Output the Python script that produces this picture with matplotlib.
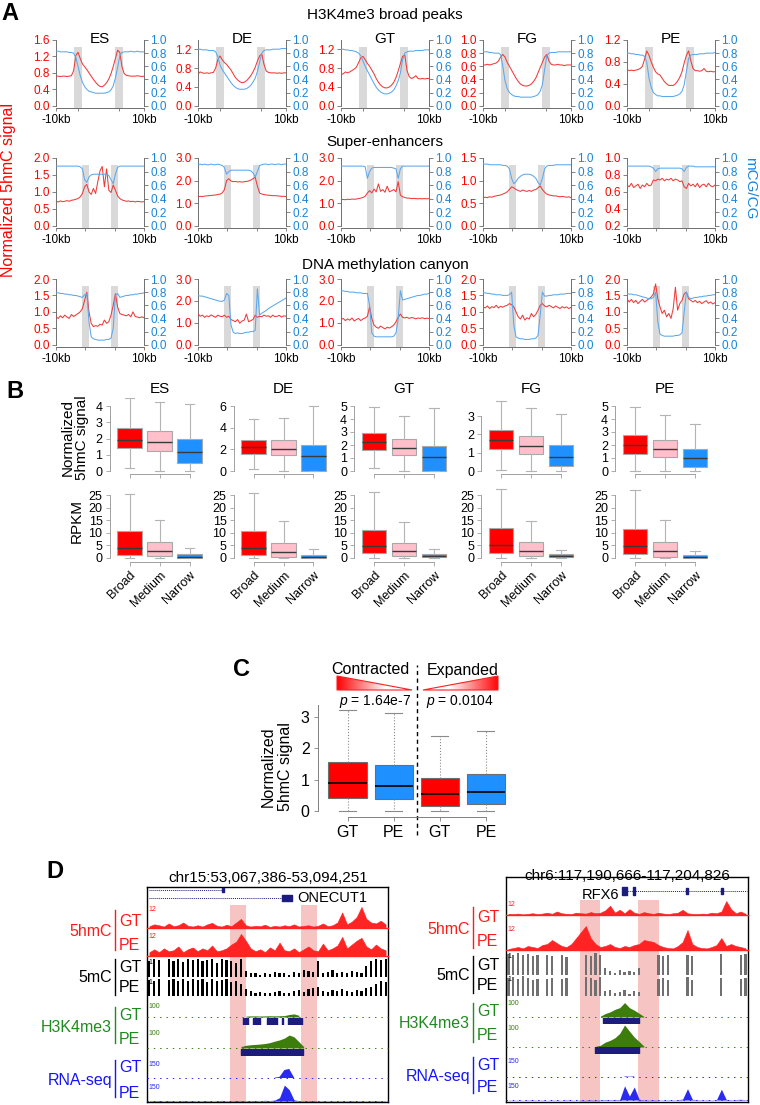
import numpy as np
import matplotlib
matplotlib.use('Agg')
import matplotlib.pyplot as plt
from matplotlib.patches import Polygon
from matplotlib.lines import Line2D
from matplotlib.colors import LinearSegmentedColormap

plt.rcParams['font.family'] = ['Liberation Sans', 'DejaVu Sans']
plt.rcParams['mathtext.fontset'] = 'custom'
plt.rcParams['mathtext.it'] = 'Liberation Sans:italic'
plt.rcParams['mathtext.rm'] = 'Liberation Sans'

# ============ panel A data ============
stages = ['ES', 'DE', 'GT', 'FG', 'PE']
row_titles = ['H3K4me3 broad peaks', 'Super-enhancers', 'DNA methylation canyon']
pos_kb = np.linspace(-10, 10, 41)
bands_kb = [[(-6.0, -4.2), (3.4, 5.2)], [(-4.1, -2.5), (2.4, 4.2)], [(-4.1, -2.5), (2.4, 4.2)]]
left_ytop = [[1.6, 1.4, 1.4, 1.0, 1.2], [2.0, 3.0, 3.0, 1.5, 1.0], [2.0, 3.0, 3.0, 2.0, 2.0]]
left_ticks = [
    [[0, 0.4, 0.8, 1.2, 1.6], [0, 0.4, 0.8, 1.2], [0, 0.4, 0.8, 1.2], [0, 0.2, 0.4, 0.6, 0.8, 1.0], [0, 0.4, 0.8, 1.2]],
    [[0, 0.5, 1.0, 1.5, 2.0], [0, 1, 2, 3], [0, 1, 2, 3], [0, 0.5, 1.0, 1.5], [0.2, 0.4, 0.6, 0.8, 1.0]],
    [[0, 0.5, 1.0, 1.5, 2.0], [0, 1, 2, 3], [0, 1, 2, 3], [0, 0.5, 1.0, 1.5, 2.0], [0, 0.5, 1.0, 1.5, 2.0]],
]
right_ticks = [0, 0.2, 0.4, 0.6, 0.8, 1.0]

k4_red = {
    'ES': [0.72, 0.72, 0.71, 0.72, 0.72, 0.71, 0.72, 0.73,
           0.85, 1.22, 1.30, 1.15, 1.02, 0.95, 0.88, 0.80, 0.72, 0.64, 0.57, 0.51, 0.47, 0.46, 0.50, 0.56,
           0.65, 0.78, 0.95, 1.15, 1.35, 1.30, 0.95, 0.78,
           0.74, 0.73, 0.72, 0.72, 0.72, 0.73, 0.72, 0.71, 0.72],
    'DE': [0.68, 0.72, 0.70, 0.69, 0.70, 0.69, 0.70, 0.71,
           0.80, 0.98, 1.06, 0.98, 0.92, 0.88, 0.82, 0.76, 0.68, 0.60, 0.55, 0.51, 0.49, 0.50, 0.53, 0.58,
           0.64, 0.72, 0.82, 0.95, 1.06, 1.10, 0.88, 0.74,
           0.71, 0.70, 0.70, 0.70, 0.69, 0.70, 0.69, 0.70, 0.70],
    'GT': [0.66, 0.68, 0.72, 0.70, 0.72, 0.75, 0.78, 0.82,
           0.92, 1.02, 1.05, 0.98, 0.90, 0.84, 0.76, 0.68, 0.58, 0.50, 0.44, 0.40, 0.38, 0.38, 0.40, 0.44,
           0.50, 0.60, 0.74, 0.90, 1.05, 1.08, 0.75, 0.62,
           0.58, 0.60, 0.64, 0.58, 0.57, 0.58, 0.57, 0.58, 0.58],
    'FG': [0.62, 0.62, 0.63, 0.62, 0.63, 0.64, 0.65, 0.68,
           0.74, 0.78, 0.74, 0.66, 0.60, 0.54, 0.48, 0.42, 0.37, 0.33, 0.31, 0.30, 0.30, 0.31, 0.33, 0.37,
           0.42, 0.50, 0.58, 0.66, 0.74, 0.78, 0.68, 0.63,
           0.62, 0.62, 0.63, 0.62, 0.62, 0.61, 0.62, 0.62, 0.62],
    'PE': [0.66, 0.64, 0.65, 0.64, 0.65, 0.66, 0.68, 0.72,
           0.85, 1.00, 0.92, 0.80, 0.70, 0.62, 0.58, 0.56, 0.50, 0.44, 0.40, 0.37, 0.37, 0.37, 0.40, 0.45,
           0.52, 0.62, 0.78, 0.92, 1.00, 0.82, 0.68, 0.64,
           0.64, 0.63, 0.64, 0.68, 0.63, 0.62, 0.63, 0.62, 0.62],
}
k4_blue = {
    'ES': [0.83, 0.83, 0.82, 0.82, 0.82, 0.82, 0.81, 0.81,
           0.80, 0.74, 0.60, 0.46, 0.36, 0.29, 0.25, 0.22, 0.21, 0.20, 0.19, 0.19, 0.19, 0.19, 0.19, 0.20,
           0.21, 0.24, 0.30, 0.42, 0.58, 0.76, 0.81, 0.82,
           0.82, 0.82, 0.83, 0.82, 0.82, 0.83, 0.82, 0.82, 0.82],
    'DE': [0.86, 0.86, 0.85, 0.85, 0.85, 0.84, 0.84, 0.84,
           0.82, 0.75, 0.62, 0.55, 0.50, 0.45, 0.40, 0.35, 0.31, 0.28, 0.26, 0.25, 0.25, 0.25, 0.26, 0.28,
           0.31, 0.36, 0.42, 0.52, 0.66, 0.80, 0.84, 0.85,
           0.85, 0.85, 0.86, 0.86, 0.86, 0.86, 0.87, 0.87, 0.87],
    'GT': [0.86, 0.86, 0.85, 0.85, 0.84, 0.84, 0.83, 0.82,
           0.80, 0.76, 0.68, 0.60, 0.53, 0.47, 0.40, 0.34, 0.28, 0.24, 0.21, 0.19, 0.18, 0.18, 0.19, 0.21,
           0.24, 0.30, 0.38, 0.50, 0.70, 0.80, 0.82, 0.83,
           0.83, 0.83, 0.84, 0.84, 0.84, 0.84, 0.85, 0.85, 0.85],
    'FG': [0.82, 0.82, 0.82, 0.81, 0.81, 0.80, 0.80, 0.80,
           0.78, 0.60, 0.38, 0.26, 0.20, 0.17, 0.15, 0.14, 0.14, 0.13, 0.13, 0.13, 0.13, 0.13, 0.13, 0.14,
           0.15, 0.17, 0.22, 0.32, 0.55, 0.76, 0.80, 0.81,
           0.81, 0.81, 0.82, 0.82, 0.82, 0.82, 0.82, 0.82, 0.82],
    'PE': [0.80, 0.80, 0.79, 0.79, 0.78, 0.78, 0.77, 0.77,
           0.75, 0.66, 0.42, 0.28, 0.20, 0.17, 0.15, 0.15, 0.14, 0.14, 0.14, 0.14, 0.14, 0.14, 0.15, 0.16,
           0.18, 0.22, 0.32, 0.52, 0.72, 0.77, 0.78, 0.78,
           0.78, 0.79, 0.79, 0.79, 0.80, 0.80, 0.80, 0.80, 0.81],
}
se_red = {
    'ES': [0.72, 0.70, 0.73, 0.71, 0.72, 0.74, 0.72, 0.75, 0.76, 0.78, 0.80,
           0.85, 0.95, 1.15, 1.22, 1.00, 0.92, 1.10, 0.95, 1.30, 1.62,
           1.75, 1.15, 1.68, 1.05, 0.98, 1.20, 1.05, 0.88, 0.80, 0.76,
           0.74, 0.72, 0.73, 0.71, 0.72, 0.70, 0.72, 0.71, 0.70, 0.71],
    'DE': [1.28, 1.30, 1.29, 1.31, 1.32, 1.33, 1.34, 1.35, 1.36, 1.38, 1.40,
           1.45, 1.60, 2.00, 2.08, 1.98, 1.95, 1.96, 1.94, 1.95, 1.93,
           1.95, 1.96, 1.98, 2.02, 2.08, 2.15, 1.75, 1.45, 1.40, 1.38,
           1.36, 1.35, 1.34, 1.33, 1.33, 1.32, 1.31, 1.30, 1.30, 1.29],
    'GT': [1.15, 1.16, 1.15, 1.17, 1.16, 1.18, 1.17, 1.18, 1.20, 1.22, 1.25,
           1.30, 1.45, 1.55, 1.45, 1.62, 1.50, 1.85, 1.52, 1.60, 1.48,
           1.75, 1.50, 1.55, 1.60, 1.50, 1.95, 1.35, 1.28, 1.25, 1.22,
           1.22, 1.20, 1.21, 1.20, 1.19, 1.20, 1.19, 1.20, 1.19, 1.20],
    'FG': [0.62, 0.63, 0.62, 0.64, 0.63, 0.65, 0.66, 0.67, 0.68, 0.70, 0.72,
           0.75, 0.80, 0.86, 0.84, 0.80, 0.78, 0.76, 0.79, 0.77, 0.76,
           0.78, 0.76, 0.79, 0.80, 0.84, 0.88, 0.80, 0.74, 0.70, 0.68,
           0.67, 0.66, 0.66, 0.65, 0.64, 0.65, 0.64, 0.63, 0.64, 0.62],
    'PE': [0.68, 0.66, 0.70, 0.65, 0.67, 0.69, 0.64, 0.68, 0.66, 0.70, 0.67,
           0.68, 0.74, 0.73, 0.75, 0.74, 0.76, 0.73, 0.75, 0.74, 0.76,
           0.73, 0.75, 0.74, 0.72, 0.73, 0.66, 0.64, 0.70, 0.67, 0.69,
           0.66, 0.70, 0.65, 0.68, 0.69, 0.66, 0.70, 0.67, 0.66, 0.68],
}
se_blue = {
    'ES': [0.88, 0.88, 0.88, 0.88, 0.88, 0.88, 0.88, 0.88, 0.88, 0.88, 0.88,
           0.87, 0.84, 0.68, 0.64, 0.72, 0.75, 0.76, 0.76, 0.76, 0.76,
           0.76, 0.76, 0.76, 0.74, 0.68, 0.62, 0.76, 0.86, 0.88, 0.88,
           0.88, 0.88, 0.88, 0.88, 0.88, 0.88, 0.88, 0.88, 0.88, 0.88],
    'DE': [0.90, 0.91, 0.90, 0.91, 0.90, 0.90, 0.91, 0.90, 0.90, 0.91, 0.90,
           0.89, 0.86, 0.76, 0.80, 0.82, 0.82, 0.82, 0.82, 0.82, 0.82,
           0.82, 0.82, 0.82, 0.81, 0.78, 0.72, 0.80, 0.89, 0.90, 0.91,
           0.91, 0.90, 0.91, 0.91, 0.90, 0.91, 0.91, 0.90, 0.91, 0.91],
    'GT': [0.88, 0.88, 0.88, 0.88, 0.88, 0.88, 0.88, 0.88, 0.88, 0.88, 0.88,
           0.87, 0.70, 0.80, 0.85, 0.86, 0.86, 0.86, 0.86, 0.86, 0.86,
           0.86, 0.86, 0.86, 0.85, 0.84, 0.70, 0.84, 0.88, 0.88, 0.88,
           0.88, 0.88, 0.88, 0.88, 0.88, 0.88, 0.88, 0.88, 0.88, 0.88],
    'FG': [0.91, 0.91, 0.91, 0.90, 0.90, 0.90, 0.90, 0.90, 0.90, 0.89, 0.89,
           0.88, 0.84, 0.70, 0.62, 0.65, 0.70, 0.73, 0.75, 0.76, 0.76,
           0.76, 0.75, 0.73, 0.70, 0.64, 0.60, 0.70, 0.84, 0.88, 0.89,
           0.89, 0.89, 0.90, 0.90, 0.90, 0.90, 0.90, 0.90, 0.90, 0.90],
    'PE': [0.88, 0.88, 0.88, 0.88, 0.88, 0.88, 0.88, 0.88, 0.88, 0.88, 0.88,
           0.87, 0.85, 0.80, 0.84, 0.85, 0.85, 0.85, 0.85, 0.85, 0.85,
           0.85, 0.85, 0.85, 0.85, 0.84, 0.80, 0.86, 0.88, 0.88, 0.88,
           0.87, 0.87, 0.87, 0.87, 0.87, 0.87, 0.87, 0.87, 0.87, 0.87],
}
can_red = {
    'ES': [0.85, 0.80, 0.88, 0.82, 0.90, 0.84, 0.80, 0.92, 0.86, 0.90, 0.95,
           1.00, 1.10, 1.35, 1.60, 1.00, 0.65, 0.55, 0.58, 0.56, 0.62,
           0.60, 0.75, 0.65, 0.70, 0.90, 1.20, 1.55, 1.15, 0.95, 0.92,
           0.90, 0.88, 0.92, 0.85, 1.00, 0.86, 0.84, 0.82, 0.85, 0.82],
    'DE': [1.40, 1.30, 1.35, 1.25, 1.32, 1.28, 1.36, 1.30, 1.25, 1.35, 1.30,
           1.28, 1.35, 1.25, 1.30, 1.15, 1.10, 1.05, 1.15, 0.98, 1.08,
           1.12, 1.40, 1.05, 1.10, 1.15, 1.35, 1.25, 1.30, 1.28, 1.35,
           1.30, 1.32, 1.25, 1.35, 1.28, 1.30, 1.34, 1.26, 1.32, 1.30],
    'GT': [1.15, 1.20, 1.10, 1.18, 1.12, 1.22, 1.08, 1.15, 1.20, 1.10, 1.18,
           1.22, 1.30, 1.72, 1.20, 0.90, 0.80, 0.75, 0.85, 0.78, 0.72,
           0.80, 0.76, 0.82, 0.90, 1.05, 1.25, 1.40, 1.25, 1.22, 1.25,
           1.20, 1.24, 1.22, 1.18, 1.22, 1.20, 1.23, 1.19, 1.21, 1.20],
    'FG': [1.15, 1.12, 1.18, 1.10, 1.16, 1.13, 1.20, 1.12, 1.17, 1.14, 1.18,
           1.20, 1.25, 1.22, 1.15, 1.00, 0.85, 0.78, 0.90, 0.75, 0.82,
           0.78, 0.95, 0.85, 0.92, 1.05, 1.20, 1.25, 1.18, 1.15, 1.20,
           1.16, 1.12, 1.18, 1.14, 1.10, 1.16, 1.12, 1.15, 1.10, 1.14],
    'PE': [1.40, 1.30, 1.38, 1.28, 1.35, 1.25, 1.32, 1.38, 1.30, 1.35, 1.40,
           1.45, 1.55, 1.85, 1.40, 1.15, 0.95, 1.05, 0.85, 0.95, 0.80,
           1.10, 1.75, 1.05, 1.25, 1.35, 1.55, 1.60, 1.40, 1.35, 1.30,
           1.35, 1.28, 1.32, 1.25, 1.30, 1.34, 1.26, 1.30, 1.24, 1.28],
}
can_blue = {
    'ES': [0.79, 0.79, 0.78, 0.78, 0.77, 0.77, 0.76, 0.76, 0.75, 0.75, 0.74,
           0.73, 0.72, 0.76, 0.78, 0.35, 0.12, 0.09, 0.08, 0.07, 0.07,
           0.07, 0.07, 0.08, 0.08, 0.10, 0.25, 0.75, 0.78, 0.72, 0.73,
           0.74, 0.75, 0.75, 0.76, 0.76, 0.77, 0.77, 0.78, 0.78, 0.79],
    'DE': [0.75, 0.74, 0.74, 0.73, 0.72, 0.71, 0.70, 0.69, 0.68, 0.67, 0.66,
           0.66, 0.68, 0.78, 0.75, 0.30, 0.19, 0.17, 0.18, 0.17, 0.17,
           0.18, 0.19, 0.19, 0.20, 0.20, 0.22, 0.85, 0.45, 0.48, 0.50,
           0.52, 0.55, 0.57, 0.59, 0.61, 0.63, 0.65, 0.67, 0.69, 0.71],
    'GT': [0.82, 0.82, 0.81, 0.81, 0.80, 0.80, 0.80, 0.79, 0.79, 0.79, 0.78,
           0.78, 0.78, 0.60, 0.18, 0.13, 0.12, 0.12, 0.12, 0.12, 0.12,
           0.12, 0.12, 0.12, 0.13, 0.18, 0.40, 0.82, 0.68, 0.69, 0.70,
           0.71, 0.72, 0.73, 0.74, 0.75, 0.75, 0.76, 0.77, 0.77, 0.78],
    'FG': [0.79, 0.79, 0.78, 0.78, 0.77, 0.77, 0.76, 0.76, 0.76, 0.75, 0.75,
           0.75, 0.76, 0.80, 0.30, 0.12, 0.10, 0.09, 0.09, 0.08, 0.08,
           0.08, 0.09, 0.09, 0.10, 0.14, 0.45, 0.80, 0.74, 0.74, 0.75,
           0.75, 0.76, 0.76, 0.76, 0.77, 0.77, 0.77, 0.78, 0.78, 0.78],
    'PE': [0.78, 0.77, 0.77, 0.76, 0.76, 0.75, 0.74, 0.73, 0.72, 0.71, 0.70,
           0.70, 0.72, 0.80, 0.35, 0.16, 0.14, 0.13, 0.13, 0.13, 0.13,
           0.13, 0.14, 0.14, 0.15, 0.18, 0.50, 0.80, 0.72, 0.70, 0.71,
           0.72, 0.72, 0.73, 0.73, 0.74, 0.74, 0.75, 0.75, 0.76, 0.76],
}

# ============ panel B data: [whislo, q1, median, q3, whishi] ============
b_groups = ['Broad', 'Medium', 'Narrow']
hmc_box = {
    'ES': [[0.20, 1.40, 1.92, 2.65, 4.48], [0.0, 1.23, 1.77, 2.44, 4.27], [0.0, 0.52, 1.19, 1.98, 4.15]],
    'DE': [[0.20, 1.60, 2.20, 2.90, 4.77], [0.0, 1.45, 2.06, 2.83, 4.92], [0.0, 0.0, 1.38, 2.40, 5.97]],
    'GT': [[0.25, 1.60, 2.20, 2.90, 4.90], [0.0, 1.20, 1.80, 2.44, 4.23], [0.0, 0.0, 1.08, 1.95, 4.87]],
    'FG': [[0.04, 1.18, 1.67, 2.22, 3.80], [0.0, 0.91, 1.35, 1.93, 3.45], [0.0, 0.25, 0.76, 1.40, 3.13]],
    'PE': [[0.0, 1.30, 1.97, 2.74, 4.95], [0.0, 1.10, 1.67, 2.36, 4.28], [0.0, 0.33, 0.97, 1.67, 3.64]],
}
rpkm_box = {
    'ES': [[0, 1.0, 3.9, 10.6, 25.2], [0, 0.65, 2.6, 6.3, 14.9], [0, 0, 0.25, 1.55, 4.1]],
    'DE': [[0, 1.3, 3.9, 10.9, 25.6], [0, 0.4, 2.2, 5.9, 14.5], [0, 0, 0.3, 1.3, 3.7]],
    'GT': [[0, 1.8, 4.8, 11.3, 26.0], [0, 0.9, 2.6, 6.0, 14.2], [0, 0.26, 0.65, 1.56, 3.5]],
    'FG': [[0, 2.1, 5.1, 12.0, 27.2], [0, 0.9, 2.9, 6.4, 14.6], [0, 0.26, 0.8, 1.4, 3.1]],
    'PE': [[0, 1.4, 4.6, 11.5, 26.9], [0, 0.5, 2.7, 6.4, 15.0], [0, 0, 0.26, 1.0, 2.7]],
}
hmc_top = [4, 6, 5, 3.55, 5]
hmc_ticks = [[0, 1, 2, 3, 4], [0, 2, 4, 6], [0, 1, 2, 3, 4, 5], [0, 1, 2, 3], [0, 1, 2, 3, 4, 5]]
rpkm_ticks = [0, 5, 10, 15, 20, 25]

# ============ panel C data ============
c_labels = ['GT', 'PE', 'GT', 'PE']
c_box = [[0, 0.43, 0.88, 1.55, 3.21], [0, 0.37, 0.81, 1.48, 3.13],
         [0, 0.16, 0.54, 1.06, 2.40], [0, 0.21, 0.60, 1.17, 2.56]]
c_pvals = ['1.64e-7', '0.0104']

# ============ panel D data (50 bins per track) ============
left_len = 26.865
right_len = 14.16
left_hmc_gt = [1.0, 2.0, 1.5, 0.8, 2.5, 1.0, 1.5, 3.0, 1.2, 0.8,
               1.5, 0.8, 2.0, 2.8, 1.2, 0.8, 1.8, 1.0, 3.0, 5.0,
               1.5, 0.8, 1.2, 1.0, 1.8, 0.6, 1.2, 0.8, 1.5, 1.0,
               2.0, 0.8, 1.2, 1.5, 0.8, 1.2, 2.5, 1.0, 1.5, 3.0,
               8.5, 2.0, 3.5, 6.0, 11.5, 5.0, 3.0, 2.5, 4.0, 2.0]
left_hmc_pe = [2.0, 3.5, 2.0, 4.0, 2.5, 3.0, 5.0, 2.0, 3.5, 4.5,
               2.5, 4.0, 3.0, 5.5, 2.5, 3.0, 4.0, 6.0, 7.5, 11.5,
               8.0, 4.0, 2.5, 3.5, 2.0, 4.5, 3.0, 7.0, 3.0, 2.5,
               4.0, 2.0, 3.5, 5.0, 3.0, 2.5, 6.5, 3.0, 4.0, 5.5,
               10.0, 4.0, 6.0, 8.0, 9.5, 5.0, 3.5, 6.0, 4.0, 3.0]
left_mc_gt = [0.90, 1.00, 0.95, 0.00, 1.00, 0.90, 1.00, 0.85, 1.00, 0.95,
              1.00, 0.90, 0.95, 1.00, 0.80, 1.00, 0.95, 0.90, 0.80, 1.00,
              0.35, 0.25, 0.20, 0.10, 0.20, 0.15, 0.30, 0.20, 0.25, 0.10,
              0.30, 0.20, 0.40, 0.35, 0.30, 0.90, 0.20, 0.30, 0.40, 0.25,
              0.30, 0.25, 0.35, 0.30, 0.20, 0.60, 0.90, 1.00, 0.95, 1.00]
left_mc_pe = [0.95, 0.90, 1.00, 0.00, 0.95, 1.00, 0.90, 1.00, 0.90, 1.00,
              0.95, 1.00, 0.85, 1.00, 0.90, 0.95, 1.00, 0.85, 0.90, 0.70,
              0.40, 0.30, 0.20, 0.25, 0.15, 0.20, 0.25, 0.30, 0.20, 0.15,
              0.30, 0.35, 0.25, 0.40, 0.45, 0.55, 0.30, 0.25, 0.35, 0.30,
              0.40, 0.30, 0.25, 0.35, 0.30, 0.50, 0.55, 0.70, 0.90, 0.80]
left_k4_gt = [0, 0, 0, 0, 0, 0, 0, 0, 0, 0,
              0, 0, 0, 0, 0, 0, 0, 0, 0, 0,
              6, 8, 8, 7, 8, 9, 8, 9, 10, 18,
              22, 12, 0, 0, 0, 0, 0, 0, 0, 0,
              0, 0, 0, 0, 0, 0, 0, 0, 0, 0]
left_k4_pe = [0, 0, 0, 0, 0, 0, 0, 0, 0, 0,
              0, 0, 0, 0, 0, 0, 0, 0, 0, 8,
              15, 18, 20, 22, 25, 30, 38, 45, 55, 72,
              62, 35, 8, 0, 0, 0, 0, 0, 0, 0,
              0, 0, 0, 0, 0, 0, 0, 0, 0, 0]
left_rna_gt = [2, 0, 1, 0, 0, 2, 0, 0, 1, 0,
               0, 1, 0, 0, 2, 0, 0, 1, 0, 0,
               1, 0, 2, 0, 1, 0, 3, 10, 70, 80,
               5, 0, 1, 0, 0, 2, 0, 0, 1, 0,
               0, 2, 0, 0, 1, 0, 0, 2, 0, 1]
left_rna_pe = [4, 3, 5, 2, 4, 3, 2, 5, 3, 4,
               2, 3, 4, 2, 3, 5, 3, 2, 4, 3,
               3, 4, 5, 3, 6, 4, 8, 30, 140, 100,
               10, 3, 2, 3, 4, 2, 3, 2, 3, 2,
               3, 2, 4, 2, 3, 2, 3, 4, 2, 3]
right_hmc_gt = [1.0, 0.8, 1.2, 0.5, 1.0, 1.5, 0.8, 1.2, 2.0, 1.0,
                3.0, 1.5, 1.0, 0.8, 2.0, 1.5, 1.2, 2.5, 1.5, 2.0,
                4.0, 8.0, 2.0, 4.5, 1.5, 5.0, 2.0, 1.0, 2.5, 1.5,
                1.0, 2.0, 1.2, 0.8, 1.5, 2.0, 4.5, 1.5, 1.0, 0.8,
                1.2, 1.0, 2.0, 1.5, 3.0, 12.0, 5.0, 1.5, 3.0, 1.0]
right_hmc_pe = [0.5, 1.0, 1.5, 0.8, 2.0, 1.5, 1.0, 2.5, 3.0, 5.0,
                3.5, 2.0, 1.5, 3.0, 6.0, 9.0, 12.0, 6.0, 3.0, 1.5,
                2.0, 3.0, 1.5, 1.0, 2.0, 1.5, 2.5, 3.0, 5.0, 4.5,
                4.0, 2.5, 1.5, 1.0, 0.8, 2.0, 4.0, 10.0, 3.0, 1.5,
                1.0, 0.8, 1.5, 2.5, 6.0, 2.0, 3.0, 2.0, 1.5, 0.8]
right_mc_gt = [0.95, 0.90, 1.00, 0.90, 0.95, 0.85, 0.90, 0.00, 0.90, 0.85,
               0.00, 0.90, 0.80, 0.00, 0.00, 0.00, 0.90, 0.85, 1.00, 0.90,
               0.30, 0.20, 0.10, 0.25, 0.15, 0.20, 0.15, 0.30, 0.00, 0.00,
               0.00, 0.90, 0.85, 0.90, 0.00, 0.00, 0.00, 0.90, 0.85, 0.00,
               0.00, 0.00, 0.00, 0.00, 0.95, 0.00, 0.00, 0.00, 0.90, 0.95]
right_mc_pe = [0.90, 0.95, 0.85, 1.00, 0.90, 0.80, 0.85, 0.00, 0.85, 0.90,
               0.00, 0.85, 0.90, 0.00, 0.00, 0.00, 0.95, 0.90, 0.80, 0.95,
               0.25, 0.30, 0.15, 0.20, 0.30, 0.10, 0.25, 0.20, 0.00, 0.00,
               0.00, 0.85, 0.90, 0.80, 0.00, 0.00, 0.00, 0.95, 0.80, 0.00,
               0.00, 0.00, 0.00, 0.00, 0.90, 0.00, 0.00, 0.00, 0.85, 0.90]
right_k4_gt = [0, 0, 0, 0, 0, 0, 0, 0, 0, 0,
               0, 0, 0, 0, 0, 0, 0, 0, 0, 5,
               20, 30, 45, 55, 85, 55, 40, 22, 3, 0,
               0, 0, 0, 0, 0, 0, 0, 0, 0, 0,
               0, 0, 0, 0, 0, 0, 0, 0, 0, 0]
right_k4_pe = [0, 0, 0, 0, 0, 0, 0, 0, 0, 0,
               0, 0, 0, 0, 0, 0, 0, 0, 3, 8,
               22, 30, 42, 62, 100, 72, 45, 25, 4, 0,
               0, 0, 0, 0, 0, 0, 0, 0, 0, 0,
               0, 0, 0, 0, 0, 0, 0, 0, 0, 0]
right_rna_gt = [0, 0, 0, 0, 0, 0, 0, 0, 0, 0,
                0, 0, 0, 0, 0, 0, 0, 0, 0, 0,
                0, 0, 0, 0, 5, 2, 5, 0, 0, 0,
                0, 0, 0, 0, 0, 0, 0, 4, 0, 0,
                0, 0, 0, 0, 4, 0, 0, 0, 2, 0]
right_rna_pe = [2, 1, 2, 1, 2, 3, 1, 2, 1, 2,
                2, 1, 3, 2, 1, 2, 2, 3, 2, 3,
                4, 3, 5, 4, 125, 35, 115, 6, 3, 2,
                3, 2, 2, 3, 2, 3, 8, 100, 6, 3,
                2, 3, 2, 4, 95, 5, 3, 4, 6, 3]
left_highlights = [(9.25, 11.04), (17.17, 18.95)]
right_highlights = [(4.33, 5.50), (7.72, 8.95)]
left_k4_gt_peaks = [(10.70, 11.26), (11.80, 12.60), (13.40, 14.50), (15.05, 15.16), (15.70, 17.30)]
left_k4_pe_peaks = [(10.48, 17.39)]
right_k4_gt_peaks = [(5.68, 7.78)]
right_k4_pe_peaks = [(5.20, 7.78)]
left_gene_lines = [(0.2, 8.4, 0.75), (0.2, 15.05, 0.25)]
left_gene_exons = [(8.4, 8.6, 0.75, 0.12), (15.05, 16.2, 0.25, 0.2)]
right_gene_lines = [(6.79, 14.1, 0.45)]
right_gene_exons = [(6.79, 7.08, 0.45, 0.22), (7.43, 7.55, 0.45, 0.18), (10.53, 10.65, 0.45, 0.15), (12.58, 12.70, 0.45, 0.15)]

# ============ figure ============
W, H = 760, 1105
fig = plt.figure(figsize=(W / 100, H / 100), dpi=100)


def px_axes(x0, y0, x1, y1):
    return fig.add_axes([x0 / W, 1 - y1 / H, (x1 - x0) / W, (y1 - y0) / H])


def px_text(x, y, s, **kw):
    return fig.text(x / W, 1 - y / H, s, **kw)


def px_vline(x, y0, y1, color, lw=1.0):
    fig.add_artist(Line2D([x / W, x / W], [1 - y0 / H, 1 - y1 / H], color=color, lw=lw))


GRAY = '#6E6E6E'
RED = '#FF0000'
TBLUE = '#1A85DC'

# ---------------- panel A ----------------
a_cols = [56, 198, 341, 483, 627]
a_rows = [(40, 108), (158, 228), (279, 347)]
a_title_y = [15, 142, 265]
profiles = [(k4_red, k4_blue), (se_red, se_blue), (can_red, can_blue)]

for r in range(3):
    top, bot = a_rows[r]
    px_text(385, a_title_y[r], row_titles[r], ha='center', va='center', fontsize=11)
    for c, st in enumerate(stages):
        ax = px_axes(a_cols[c], top, a_cols[c] + 88, bot)
        ticks = left_ticks[r][c]
        lo, hi = ticks[0], left_ytop[r][c]
        ax.set_ylim(lo - 0.035 * (hi - lo), hi)
        ax.set_xlim(-10, 10)
        for b0, b1 in bands_kb[r]:
            ax.axvspan(b0, b1, ymin=0, ymax=0.9, color='#D9D9D9', lw=0, zorder=0)
        ax.plot(pos_kb, profiles[r][0][st], color='#F03A3A', lw=0.75, zorder=3)
        ax.set_yticks(ticks)
        ax.set_yticklabels([f'{t:.1f}' for t in ticks])
        ax.set_xticks([-10, 10])
        ax.set_xticklabels(['-10kb', '10kb'])
        ax.set_xticks([(b0 + b1) / 2 for b0, b1 in bands_kb[r]], minor=True)
        ax.tick_params(axis='y', length=3, width=0.6, color=GRAY, labelcolor=RED, labelsize=8.5, pad=1.5)
        ax.tick_params(axis='x', which='both', length=2.5, width=0.6, color=GRAY, labelsize=8.5, pad=2)
        for s in ['top', 'right']:
            ax.spines[s].set_visible(False)
        for s in ['left', 'bottom']:
            ax.spines[s].set_color(GRAY)
            ax.spines[s].set_linewidth(0.7)
        ax.spines['left'].set_bounds(lo, hi)

        ax2 = ax.twinx()
        ax2.set_ylim(-0.035, 1.0)
        ax2.plot(pos_kb, profiles[r][1][st], color='#5BA8EE', lw=0.75)
        ax2.set_yticks(right_ticks)
        ax2.set_yticklabels([f'{t:.1f}' for t in right_ticks])
        ax2.tick_params(axis='y', length=3, width=0.6, color=GRAY, labelcolor=TBLUE, labelsize=8.5, pad=1.5)
        for s in ['top', 'left', 'bottom']:
            ax2.spines[s].set_visible(False)
        ax2.spines['right'].set_color(GRAY)
        ax2.spines['right'].set_linewidth(0.7)
        ax2.spines['right'].set_bounds(0, 1)
        if r == 0:
            ax.text(0.5, 1.02, st, transform=ax.transAxes, ha='center', va='center', fontsize=11)

px_text(9, 190, 'Normalized 5hmC signal', rotation=90, ha='center', va='center', fontsize=11.5, color=RED)
px_text(750, 188, 'mCG/CG', rotation=270, ha='center', va='center', fontsize=11, color=TBLUE)

# ---------------- panel B ----------------
b_first = [129.5, 253.5, 374, 501, 635]
b_colors = ['#FF0000', '#FFC0CB', '#1E90FF']


def make_stats(rows):
    return [dict(whislo=a, q1=b, med=m, q3=d, whishi=e, fliers=[]) for a, b, m, d, e in rows]


for c, st in enumerate(stages):
    x0 = b_first[c] - 20
    x1 = b_first[c] + 80
    for r in range(2):
        if r == 0:
            ax = px_axes(x0, 398, x1, 474)
            T = hmc_top[c]
            ax.set_ylim(-T * 3 / 65, T * (1 + 8 / 65))
            stats = make_stats(hmc_box[st])
            ticks = hmc_ticks[c]
        else:
            ax = px_axes(x0, 488, x1, 562)
            T = 25
            ax.set_ylim(-T * 4 / 63, T * (1 + 7 / 63))
            stats = make_stats(rpkm_box[st])
            ticks = rpkm_ticks
        bp = ax.bxp(stats, positions=[1, 2, 3], widths=0.83, patch_artist=True, showfliers=False,
                    capwidths=0.33,
                    boxprops=dict(edgecolor='#A8A8A8', linewidth=0.8),
                    medianprops=dict(color='#3A3A3A', linewidth=1.0),
                    whiskerprops=dict(color='#B4B4B4', linewidth=0.8),
                    capprops=dict(color='#B4B4B4', linewidth=0.8))
        for patch, col in zip(bp['boxes'], b_colors):
            patch.set_facecolor(col)
        ax.set_xlim(1 - 20 / 30, 3 + 20 / 30)
        ax.set_yticks(ticks)
        ax.set_yticklabels([str(t) for t in ticks])
        ax.set_xticks([1, 2, 3])
        if r == 1:
            ax.set_xticklabels(b_groups, rotation=45, ha='right', rotation_mode='anchor', fontsize=10)
        else:
            ax.set_xticklabels([])
            ax.text(0.5, 1 + 9 / 76, st, transform=ax.transAxes, ha='center', va='center', fontsize=11)
        ax.tick_params(axis='both', length=3, width=0.6, color='#A0A0A0', labelsize=9, pad=2)
        for s in ['top', 'right']:
            ax.spines[s].set_visible(False)
        for s in ['left', 'bottom']:
            ax.spines[s].set_color('#A0A0A0')
            ax.spines[s].set_linewidth(0.7)
        ax.spines['left'].set_bounds(0, ticks[-1])
        ax.spines['bottom'].set_bounds(1, 3)

px_text(75, 438, 'Normalized\n5hmC signal', rotation=90, ha='center', va='center', fontsize=11,
        linespacing=1.05, multialignment='center')
px_text(77, 521, 'RPKM', rotation=90, ha='center', va='center', fontsize=11)

# ---------------- panel C ----------------
axc = px_axes(318, 705, 512, 817)
axc.set_ylim(-6 / 94 * 3, 3 + 12 / 94 * 3)
axc.set_xlim(1 - 29.5 / 46, 4 + 26 / 46)
bp = axc.bxp(make_stats(c_box), positions=[1, 2, 3, 4], widths=0.83, patch_artist=True, showfliers=False,
             capwidths=0.37,
             boxprops=dict(edgecolor='#6E6E6E', linewidth=0.8),
             medianprops=dict(color='black', linewidth=1.2),
             whiskerprops=dict(color='#8A8A8A', linewidth=0.8, linestyle=':'),
             capprops=dict(color='#8A8A8A', linewidth=0.8))
for patch, col in zip(bp['boxes'], ['#FF0000', '#1E90FF', '#FF0000', '#1E90FF']):
    patch.set_facecolor(col)
axc.set_xticks([1, 2, 3, 4])
axc.set_xticklabels(c_labels, fontsize=11.5)
axc.set_yticks([0, 1, 2, 3])
axc.set_yticklabels(['0', '1', '2', '3'], fontsize=11.5)
axc.tick_params(axis='both', length=3, width=0.6, color='#808080', pad=3)
for s in ['top', 'right']:
    axc.spines[s].set_visible(False)
for s in ['left', 'bottom']:
    axc.spines[s].set_color('#808080')
    axc.spines[s].set_linewidth(0.7)
axc.spines['left'].set_bounds(0, 3.38)
axc.spines['bottom'].set_bounds(1, 4)
axc.axvline(2.5, ymin=-18 / 112, ymax=152 / 112, color='black', lw=1.0, ls=(0, (3, 2.5)), clip_on=False)

px_text(277, 767, 'Normalized\n5hmC signal', rotation=90, ha='center', va='center', fontsize=11.5,
        linespacing=1.15, multialignment='center')
px_text(370, 670, 'Contracted', ha='center', va='center', fontsize=11.5)
px_text(463, 670, 'Expanded', ha='center', va='center', fontsize=11.5)
px_text(375, 701, '$p$ = ' + c_pvals[0], ha='center', va='center', fontsize=10)
px_text(460, 701, '$p$ = ' + c_pvals[1], ha='center', va='center', fontsize=10)

fade = LinearSegmentedColormap.from_list('fade', [(0, 'white'), (0.35, 'white'), (1, 'red')])


def gradient_triangle(x0, y0, x1, y1, tall_left):
    tax = px_axes(x0, y0, x1, y1)
    tax.set_xlim(0, 1)
    tax.set_ylim(0, 1)
    tax.axis('off')
    ramp = np.linspace(1, 0, 256) if tall_left else np.linspace(0, 1, 256)
    im = tax.imshow(ramp[None, :], cmap=fade, vmin=0, vmax=1, extent=[0, 1, 0, 1], aspect='auto')
    verts = [(0, 1), (0, 0), (1, 0)] if tall_left else [(0, 0), (1, 0), (1, 1)]
    tri = Polygon(verts, closed=True, facecolor='none', edgecolor='#FF2020', lw=0.8, clip_on=False)
    tax.add_patch(tri)
    im.set_clip_path(tri)


gradient_triangle(337, 676, 412, 690, True)
gradient_triangle(423, 676, 498, 690, False)

# ---------------- panel D ----------------
NAVY = '#1C1C80'
track_colors = {'hmc': '#FF2424', 'mc': 'black', 'k4': '#3C7D0C', 'rna': '#2A2AF0'}
label_colors = {'5hmC': '#FF1A1A', '5mC': 'black', 'H3K4me3': '#1F8A1F', 'RNA-seq': '#1414FF'}


def draw_browser(frame, L, highlights, hl_top, gene_box, gene_lines, gene_exons, gene_label,
                 tracks, peak_bars, mc_color, label_x, label_rows):
    fx0, fy0, fx1, fy1 = frame
    fax = px_axes(fx0, fy0, fx1, fy1)
    fax.set_xlim(0, L)
    fax.set_ylim(0, 1)
    fax.set_xticks([])
    fax.set_yticks([])
    for s in fax.spines.values():
        s.set_linewidth(1.0)
    for h0, h1 in highlights:
        fax.axvspan(h0, h1, ymin=0, ymax=(fy1 - hl_top) / (fy1 - fy0), color='#F7C4C4', lw=0)

    gax = px_axes(fx0, gene_box[0], fx1, gene_box[1])
    gax.set_xlim(0, L)
    gax.set_ylim(0, 1)
    gax.axis('off')
    for g0, g1, gy in gene_lines:
        gax.plot([g0, g1], [gy, gy], color=NAVY, lw=0.7, ls=(0, (1, 1)))
    for e0, e1, ey, eh in gene_exons:
        gax.broken_barh([(e0, e1 - e0)], (ey - eh, 2 * eh), color=NAVY)
    txt, tx, ty, tha = gene_label
    gax.text(tx, ty, txt, ha=tha, va='center', fontsize=10.5)

    centers = (np.arange(50) + 0.5) * L / 50
    for kind, y0, y1, vals, vmax, scale in tracks:
        tax = px_axes(fx0, y0, fx1, y1)
        tax.set_xlim(0, L)
        tax.set_ylim(0, vmax)
        tax.axis('off')
        col = track_colors[kind]
        if kind == 'mc':
            tax.bar(centers, vals, width=L / 50 * 0.45, color=mc_color, lw=0)
            col = 'black'
        elif kind == 'hmc':
            tax.fill_between(centers, 0, vals, color=col, lw=0.4, edgecolor=col)
            tax.axhline(0, color=col, lw=1.0, clip_on=False)
        else:
            tax.fill_between(centers, 0, vals, where=[v > 0 for v in vals], interpolate=False,
                             color=col, lw=0)
            tax.axhline(0, color=col, lw=0.7, ls=(0, (1.5, 5)), clip_on=False)
        tax.text(0.008, 0.98, scale, transform=tax.transAxes, ha='left', va='top', fontsize=5, color=col)

    for y0, y1, segs in peak_bars:
        bax = px_axes(fx0, y0, fx1, y1)
        bax.set_xlim(0, L)
        bax.set_ylim(0, 1)
        bax.axis('off')
        bax.broken_barh([(s0, s1 - s0) for s0, s1 in segs], (0, 1), color=NAVY)

    for name, ny, by0, by1, gty, pey in label_rows:
        col = label_colors[name]
        px_text(label_x, ny, name, ha='right', va='center', fontsize=11.5, color=col)
        px_vline(label_x + 3, by0, by1, col, lw=1.0)
        px_text(label_x + 7, gty, 'GT', ha='left', va='center', fontsize=11.5, color=col)
        px_text(label_x + 7, pey, 'PE', ha='left', va='center', fontsize=11.5, color=col)


draw_browser(
    (147, 887, 388, 1102), left_len, left_highlights, 905, (886, 902),
    left_gene_lines, left_gene_exons, ('ONECUT1', 16.8, 0.25, 'left'),
    [('hmc', 906, 928, left_hmc_gt, 12, '12'), ('hmc', 933, 956, left_hmc_pe, 12, '12'),
     ('mc', 959, 977, left_mc_gt, 1, '1'), ('mc', 979, 996, left_mc_pe, 1, '1'),
     ('k4', 1003, 1017, left_k4_gt, 100, '100'), ('k4', 1030, 1048, left_k4_pe, 100, '100'),
     ('rna', 1061, 1078, left_rna_gt, 150, '150'), ('rna', 1084, 1101, left_rna_pe, 150, '150')],
    [(1018, 1025, left_k4_gt_peaks), (1049, 1055, left_k4_pe_peaks)],
    'black', 112,
    [('5hmC', 932, 910, 950, 922, 945), ('5mC', 978, 959, 995, 968, 988),
     ('H3K4me3', 1027, 1007, 1043, 1015, 1040), ('RNA-seq', 1080, 1060, 1097, 1068, 1093)])

draw_browser(
    (506, 877, 748, 1102), right_len, right_highlights, 900, (880, 900),
    right_gene_lines, right_gene_exons, ('RFX6', 6.6, 0.25, 'right'),
    [('hmc', 901, 915, right_hmc_gt, 12, '12'), ('hmc', 926, 950, right_hmc_pe, 12, '12'),
     ('mc', 953, 975, right_mc_gt, 1, '1'), ('mc', 976, 996, right_mc_pe, 1, '1'),
     ('k4', 1000, 1017, right_k4_gt, 100, '100'), ('k4', 1025, 1047, right_k4_pe, 100, '100'),
     ('rna', 1058, 1077, right_rna_gt, 150, '150'), ('rna', 1083, 1100, right_rna_pe, 150, '150')],
    [(1018, 1023, right_k4_gt_peaks), (1047, 1053, right_k4_pe_peaks)],
    '#707070', 470,
    [('5hmC', 930, 907, 948, 918, 942), ('5mC', 975, 956, 993, 965, 985),
     ('H3K4me3', 1023, 1003, 1042, 1012, 1035), ('RNA-seq', 1077, 1057, 1093, 1065, 1088)])

px_text(268, 878, 'chr15:53,067,386-53,094,251', ha='center', va='center', fontsize=11)
px_text(627, 876, 'chr6:117,190,666-117,204,826', ha='center', va='center', fontsize=11)

# panel letters
for letter, lx, ly in [('A', 10, 13), ('B', 15, 391), ('C', 242, 670), ('D', 55, 872)]:
    px_text(lx, ly, letter, ha='center', va='center', fontsize=17, fontweight='bold')

fig.savefig('out.png', dpi=100)
